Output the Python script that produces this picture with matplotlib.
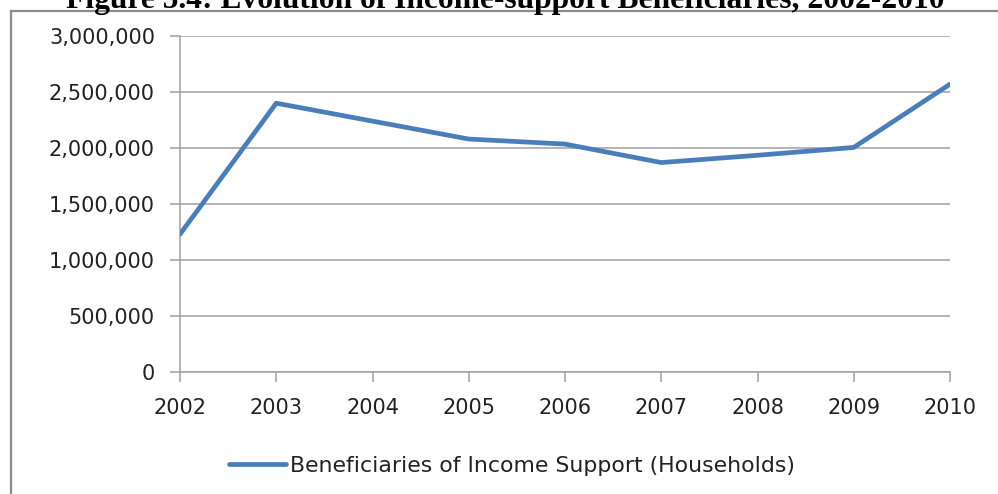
import matplotlib
matplotlib.use("Agg")
import matplotlib.pyplot as plt
from matplotlib.lines import Line2D
from matplotlib.ticker import FuncFormatter

years = ["2002", "2003", "2004", "2005", "2006", "2007", "2008", "2009", "2010"]
beneficiaries = [1230000, 2400000, 2240000, 2080000, 2035000, 1870000, 1935000, 2005000, 2570000]
series_label = "Beneficiaries of Income Support (Households)"
title = "Figure 5.4: Evolution of Income-support Beneficiaries, 2002-2010"
yticks = [0, 500000, 1000000, 1500000, 2000000, 2500000, 3000000]

W, H = 998, 494
fig = plt.figure(figsize=(W / 100, H / 100), dpi=100)
fig.patch.set_facecolor("white")

# outer chart frame (top and left visible, rest cut off)
fig.add_artist(Line2D([11 / W, 1.0], [1 - 11 / H, 1 - 11 / H], transform=fig.transFigure,
                      color="#8c8c8c", lw=1.6))
fig.add_artist(Line2D([11 / W, 11 / W], [0, 1 - 11 / H], transform=fig.transFigure,
                      color="#8c8c8c", lw=1.6))

fig.text(505 / W, 1 - 8 / H, title, ha="center", va="baseline",
         family="Liberation Serif", fontweight="bold", fontsize=22.7, color="black")

ax = fig.add_axes([180 / W, 1 - 372 / H, (950 - 180) / W, (372 - 36) / H])
x = list(range(len(years)))
ax.plot(x, beneficiaries, color="#4A7EBB", lw=3.4, solid_capstyle="round",
        solid_joinstyle="round", label=series_label, zorder=3)

ax.set_xlim(0, len(years) - 1)
ax.set_ylim(0, 3000000)
ax.set_xticks(x)
ax.set_xticklabels(years)
ax.set_yticks(yticks)
ax.yaxis.set_major_formatter(FuncFormatter(lambda v, p: f"{int(v):,}"))

ax.grid(axis="y", color="#a0a0a0", lw=1.1)
ax.set_axisbelow(True)
for s in ["top", "right"]:
    ax.spines[s].set_visible(False)
for s in ["left", "bottom"]:
    ax.spines[s].set_color("#a0a0a0")
    ax.spines[s].set_linewidth(1.1)

ax.tick_params(axis="both", colors="#a0a0a0", width=1.1, length=7, labelsize=15,
               labelcolor="#222222")
ax.tick_params(axis="x", pad=12)
ax.tick_params(axis="y", pad=11)

leg = fig.legend(handles=ax.get_lines(), labels=[series_label], loc="center",
                 bbox_to_anchor=(512 / W, 1 - 466 / H), frameon=False, fontsize=15.8,
                 handlelength=2.6, handletextpad=0.15, borderpad=0)
for t in leg.get_texts():
    t.set_color("#222222")

fig.savefig("out.png", dpi=100, facecolor="white")
